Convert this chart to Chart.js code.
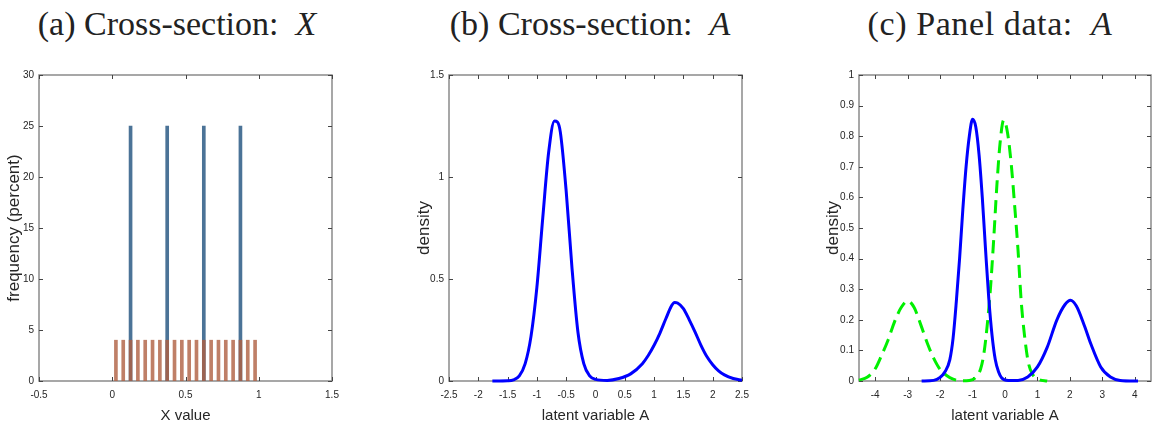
<!DOCTYPE html>
<html>
<head>
<meta charset="utf-8">
<script src="https://cdn.jsdelivr.net/npm/chart.js@4/dist/chart.umd.min.js"></script>
<style>
  html, body { margin: 0; padding: 0; background: #fff; }
  body { width: 1152px; height: 423px; position: relative; overflow: hidden; }
  .titulo {
    position: absolute; top: 4px; width: 400px; text-align: center;
    font-family: "Liberation Serif", "Times New Roman", serif;
    font-size: 34px; line-height: 40px; color: #222; white-space: nowrap;
  }
  .panel { position: absolute; top: 60px; width: 384px; height: 363px; }
</style>
</head>
<body>
<div class="titulo" style="left:-23px">(a) Cross-section: &nbsp;<i>X</i></div>
<div class="titulo" style="left:390px">(b) Cross-section: &nbsp;<i>A</i></div>
<div class="titulo" style="left:790px; letter-spacing:0.6px">(c) Panel data: &nbsp;<i>A</i></div>

<div class="panel" style="left:0px"><canvas id="chartA"></canvas></div>
<div class="panel" style="left:384px"><canvas id="chartB"></canvas></div>
<div class="panel" style="left:768px"><canvas id="chartC"></canvas></div>

<script>
// ======= Datos panel (a): histogramas de X =======
const xAzul = [0.125, 0.375, 0.625, 0.875];
const yAzul = [25, 25, 25, 25];
const xNaranja = [0.025, 0.075, 0.125, 0.175, 0.225, 0.275, 0.325, 0.375, 0.425, 0.475,
                  0.525, 0.575, 0.625, 0.675, 0.725, 0.775, 0.825, 0.875, 0.925, 0.975];
const yNaranja = [4, 4, 4, 4, 4, 4, 4, 4, 4, 4, 4, 4, 4, 4, 4, 4, 4, 4, 4, 4];
const ticksXA = [-0.5, 0, 0.5, 1, 1.5];
const labelsXA = ["-0.5", "0", "0.5", "1", "1.5"];
const ticksYA = [0, 5, 10, 15, 20, 25, 30];
const labelsYA = ["0", "5", "10", "15", "20", "25", "30"];

// ======= Datos panel (b): densidad de A =======
const xB = [-1.76, -1.5, -1.4, -1.3, -1.2, -1.1, -1.0, -0.9, -0.8, -0.7, -0.65, -0.6, -0.5,
            -0.4, -0.3, -0.2, -0.1, 0.0, 0.2, 0.4, 0.6, 0.8, 0.9, 1.0, 1.1, 1.2, 1.3, 1.35, 1.4,
            1.5, 1.6, 1.7, 1.8, 1.9, 2.0, 2.1, 2.2, 2.35, 2.5];
const yB = [0, 0.001, 0.005, 0.025, 0.085, 0.22, 0.46, 0.80, 1.12, 1.275, 1.27, 1.22, 0.93,
            0.55, 0.24, 0.085, 0.025, 0.008, 0.003, 0.012, 0.035, 0.085, 0.125, 0.175, 0.235, 0.305, 0.37, 0.385, 0.382,
            0.355, 0.30, 0.24, 0.175, 0.12, 0.08, 0.05, 0.03, 0.012, 0.004];
const ticksXB = [-2.5, -2, -1.5, -1, -0.5, 0, 0.5, 1, 1.5, 2, 2.5];
const labelsXB = ["-2.5", "-2", "-1.5", "-1", "-0.5", "0", "0.5", "1", "1.5", "2", "2.5"];
const ticksYB = [0, 0.5, 1, 1.5];
const labelsYB = ["0", "0.5", "1", "1.5"];

// ======= Datos panel (c): datos de panel =======
const xCazul = [-2.57, -2.2, -2.0, -1.85, -1.7, -1.6, -1.5, -1.4, -1.3, -1.2, -1.1, -1.0, -0.9,
                -0.8, -0.7, -0.6, -0.5, -0.4, -0.3, -0.2, -0.1, 0.1, 0.4, 0.7, 1.0, 1.3, 1.6,
                1.85, 2.02, 2.2, 2.45, 2.65, 2.95, 3.25, 3.55, 4.1];
const yCazul = [0, 0.002, 0.012, 0.03, 0.07, 0.14, 0.26, 0.40, 0.56, 0.70, 0.80, 0.855, 0.83,
                0.74, 0.60, 0.43, 0.27, 0.15, 0.07, 0.03, 0.01, 0.002, 0.002, 0.013, 0.046, 0.11, 0.20,
                0.25, 0.264, 0.245, 0.18, 0.12, 0.046, 0.013, 0.002, 0];
const xCverde = [-4.5, -4.25, -4.0, -3.8, -3.6, -3.4, -3.2, -3.0, -2.8, -2.6, -2.4, -2.2, -2.0,
                 -1.8, -1.6, -1.4, -1.1, -0.9, -0.75, -0.65, -0.55, -0.45, -0.35, -0.25, -0.15,
                 -0.04, 0.08, 0.2, 0.3, 0.4, 0.5, 0.6, 0.72, 0.85, 1.05, 1.3];
const yCverde = [0.003, 0.012, 0.04, 0.085, 0.135, 0.195, 0.24, 0.262, 0.24, 0.185, 0.125, 0.075, 0.038,
                 0.018, 0.006, 0.001, 0.002, 0.012, 0.04, 0.09, 0.18, 0.30, 0.46, 0.64, 0.78,
                 0.853, 0.81, 0.70, 0.57, 0.43, 0.26, 0.15, 0.06, 0.022, 0.005, 0];
const ticksXC = [-4, -3, -2, -1, 0, 1, 2, 3, 4];
const labelsXC = ["-4", "-3", "-2", "-1", "0", "1", "2", "3", "4"];
const ticksYC = [0, 0.1, 0.2, 0.3, 0.4, 0.5, 0.6, 0.7, 0.8, 0.9, 1];
const labelsYC = ["0", "0.1", "0.2", "0.3", "0.4", "0.5", "0.6", "0.7", "0.8", "0.9", "1"];

// ======= Estilo comun =======
const SANS = "'Liberation Sans', Arial, sans-serif";
const GRIS = "#262626";

const zip = (xs, ys) => xs.map((x, i) => ({ x, y: ys[i] }));

// caja tipo MATLAB con ticks hacia adentro en los 4 lados
const cajaPlugin = {
  id: 'caja',
  beforeDatasetsDraw(chart) {
    const { ctx, chartArea: a, scales: { x, y } } = chart;
    ctx.save();
    ctx.strokeStyle = "#8a8a8a";
    ctx.lineWidth = 1.5;
    ctx.strokeRect(a.left, a.top, a.right - a.left, a.bottom - a.top);
    ctx.strokeStyle = "#444";
    ctx.lineWidth = 1;
    ctx.beginPath();
    x.ticks.forEach(t => {
      const px = Math.round(x.getPixelForValue(t.value)) + 0.5;
      ctx.moveTo(px, a.bottom); ctx.lineTo(px, a.bottom - 4);
      ctx.moveTo(px, a.top); ctx.lineTo(px, a.top + 4);
    });
    y.ticks.forEach(t => {
      const py = Math.round(y.getPixelForValue(t.value)) + 0.5;
      ctx.moveTo(a.left, py); ctx.lineTo(a.left + 4, py);
      ctx.moveTo(a.right, py); ctx.lineTo(a.right - 4, py);
    });
    ctx.stroke();
    ctx.restore();
  }
};

function ejeX(min, max, valores, etiquetas, titulo) {
  return {
    type: 'linear', min, max, offset: false,
    grid: { display: false, drawTicks: false }, border: { display: false },
    afterBuildTicks: s => { s.ticks = valores.map(v => ({ value: v })); },
    afterFit: s => { s.height = 42; },
    ticks: {
      autoSkip: false, maxRotation: 0, padding: 8, color: GRIS,
      font: { family: SANS, size: 10 },
      callback: (v, i) => etiquetas[i]
    },
    title: {
      display: true, text: titulo, color: GRIS, padding: { top: 0, bottom: 0 },
      font: { family: SANS, size: 15, lineHeight: 1 }
    }
  };
}

function ejeY(max, valores, etiquetas, ancho, tituloPad, titulo) {
  return {
    type: 'linear', min: 0, max,
    grid: { display: false, drawTicks: false }, border: { display: false },
    afterBuildTicks: s => { s.ticks = valores.map(v => ({ value: v })); },
    afterFit: s => { s.width = ancho; },
    ticks: {
      autoSkip: false, padding: 5, color: GRIS,
      font: { family: SANS, size: 10 },
      callback: (v, i) => etiquetas[i]
    },
    title: {
      display: true, text: titulo, color: GRIS, padding: { top: tituloPad, bottom: 0 },
      font: { family: SANS, size: 17, lineHeight: 1 }
    }
  };
}

const baseOpts = {
  responsive: true,
  maintainAspectRatio: false,
  animation: false,
  plugins: { legend: { display: false }, tooltip: { enabled: false } }
};

// ======= Panel (a) =======
new Chart(document.getElementById('chartA'), {
  type: 'bar',
  data: {
    datasets: [
      {
        data: zip(xNaranja, yNaranja),
        backgroundColor: 'rgba(175,95,65,0.8)',
        borderWidth: 0, barThickness: 3, grouped: false
      },
      {
        data: zip(xAzul, yAzul),
        backgroundColor: 'rgba(55,100,140,0.9)',
        borderWidth: 0, barThickness: 3, grouped: false
      }
    ]
  },
  options: {
    ...baseOpts,
    layout: { padding: { left: 0, top: 15, right: 52, bottom: 0 } },
    scales: {
      x: ejeX(-0.5, 1.5, ticksXA, labelsXA, 'X value'),
      y: ejeY(30, ticksYA, labelsYA, 39, 6, 'frequency (percent)')
    }
  },
  plugins: [cajaPlugin]
});

// ======= Panel (b) =======
new Chart(document.getElementById('chartB'), {
  type: 'line',
  data: {
    datasets: [{
      data: zip(xB, yB),
      borderColor: '#0000ff', borderWidth: 3, pointRadius: 0,
      cubicInterpolationMode: 'monotone', clip: 6
    }]
  },
  options: {
    ...baseOpts,
    layout: { padding: { left: 0, top: 15, right: 26, bottom: 0 } },
    scales: {
      x: ejeX(-2.5, 2.5, ticksXB, labelsXB, 'latent variable A'),
      y: ejeY(1.5, ticksYB, labelsYB, 65, 31.5, 'density')
    }
  },
  plugins: [cajaPlugin]
});

// ======= Panel (c) =======
new Chart(document.getElementById('chartC'), {
  type: 'line',
  data: {
    datasets: [
      {
        data: zip(xCazul, yCazul),
        borderColor: '#0000ff', borderWidth: 3, pointRadius: 0,
        cubicInterpolationMode: 'monotone', clip: 6
      },
      {
        data: zip(xCverde, yCverde),
        borderColor: '#00f000', borderWidth: 3, pointRadius: 0, borderDash: [13, 7],
        cubicInterpolationMode: 'monotone', clip: 6
      }
    ]
  },
  options: {
    ...baseOpts,
    layout: { padding: { left: 0, top: 15, right: 1, bottom: 0 } },
    scales: {
      x: ejeX(-4.5, 4.5, ticksXC, labelsXC, 'latent variable A'),
      y: ejeY(1, ticksYC, labelsYC, 91, 56.5, 'density')
    }
  },
  plugins: [cajaPlugin]
});
</script>
</body>
</html>
